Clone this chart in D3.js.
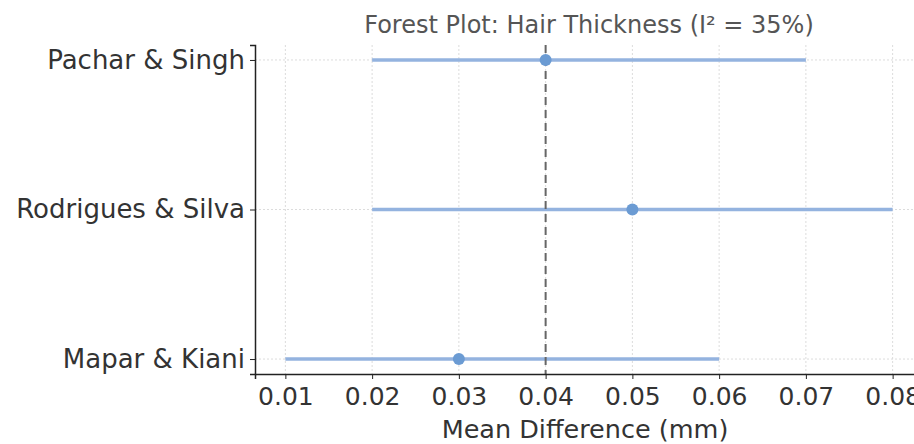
<!DOCTYPE html>
<html>
<head>
<meta charset="utf-8">
<script src="https://cdn.jsdelivr.net/npm/d3@7"></script>
<style>
  body { margin: 0; background: #fff; }
  svg { font-family: "DejaVu Sans", sans-serif; }
</style>
</head>
<body>
<div id="chart"></div>
<script>
// study data
var studies = ['Pachar & Singh', 'Rodrigues & Silva', 'Mapar & Kiani'];
var effects = [0.04, 0.05, 0.03];
var lower = [0.02, 0.02, 0.01];
var upper = [0.07, 0.08, 0.06];
var xTicks = [0.01, 0.02, 0.03, 0.04, 0.05, 0.06, 0.07, 0.08];
var pooled = 0.04;

var width = 914, height = 444;
var plotLeft = 255, plotRight = 923, plotTop = 45, plotBottom = 374;

var svg = d3.select('#chart').append('svg')
  .attr('width', width)
  .attr('height', height);

var x = d3.scaleLinear().domain([0.0065, 0.0835]).range([plotLeft, plotRight]);
var y = d3.scaleLinear().domain([2.1, -0.1]).range([plotTop, plotBottom]);

// grid
svg.append('g').selectAll('line')
  .data(xTicks).enter().append('line')
  .attr('x1', function(d) { return x(d); })
  .attr('x2', function(d) { return x(d); })
  .attr('y1', plotTop).attr('y2', plotBottom)
  .attr('stroke', '#dcdcdc').attr('stroke-width', 1)
  .attr('stroke-dasharray', '2,2');

svg.append('g').selectAll('line')
  .data(studies).enter().append('line')
  .attr('x1', plotLeft).attr('x2', plotRight)
  .attr('y1', function(d, i) { return y(2 - i); })
  .attr('y2', function(d, i) { return y(2 - i); })
  .attr('stroke', '#dcdcdc').attr('stroke-width', 1)
  .attr('stroke-dasharray', '2,2');

// confidence intervals
svg.append('g').selectAll('line')
  .data(studies).enter().append('line')
  .attr('x1', function(d, i) { return x(lower[i]); })
  .attr('x2', function(d, i) { return x(upper[i]); })
  .attr('y1', function(d, i) { return y(2 - i); })
  .attr('y2', function(d, i) { return y(2 - i); })
  .attr('stroke', '#94b3df').attr('stroke-width', 3.5);

// pooled line
svg.append('line')
  .attr('x1', x(pooled)).attr('x2', x(pooled))
  .attr('y1', plotTop).attr('y2', plotBottom)
  .attr('stroke', '#666').attr('stroke-width', 2)
  .attr('stroke-dasharray', '8,5');

// points
svg.append('g').selectAll('circle')
  .data(studies).enter().append('circle')
  .attr('cx', function(d, i) { return x(effects[i]); })
  .attr('cy', function(d, i) { return y(2 - i); })
  .attr('r', 6)
  .attr('fill', '#6b9bd3');

// axes
var xAxis = d3.axisBottom(x).tickValues(xTicks).tickSize(5).tickPadding(8)
  .tickFormat(d3.format('.2f'));
var gx = svg.append('g').attr('transform', 'translate(0,' + plotBottom + ')').call(xAxis);
gx.select('.domain').attr('stroke', '#222').attr('stroke-width', 1.5);
gx.selectAll('.tick line').attr('stroke', '#222');
gx.selectAll('text').attr('font-size', 25).attr('fill', '#333')
  .attr('font-family', '"DejaVu Sans", sans-serif');

var yAxis = d3.axisLeft(y).tickValues([2, 1, 0]).tickSize(5).tickPadding(5)
  .tickFormat(function(d) { return studies[2 - d]; });
var gy = svg.append('g').attr('transform', 'translate(' + plotLeft + ',0)').call(yAxis);
gy.select('.domain').attr('stroke', '#222').attr('stroke-width', 1.5);
gy.selectAll('.tick line').attr('stroke', '#222');
gy.selectAll('text').attr('font-size', 26).attr('fill', '#333')
  .attr('font-family', '"DejaVu Sans", sans-serif');

// title and label
svg.append('text')
  .attr('x', 589).attr('y', 33)
  .attr('text-anchor', 'middle')
  .attr('font-size', 24).attr('fill', '#555')
  .text('Forest Plot: Hair Thickness (I² = 35%)');

svg.append('text')
  .attr('x', 585).attr('y', 438)
  .attr('text-anchor', 'middle')
  .attr('font-size', 25.5).attr('fill', '#333')
  .text('Mean Difference (mm)');
</script>
</body>
</html>
